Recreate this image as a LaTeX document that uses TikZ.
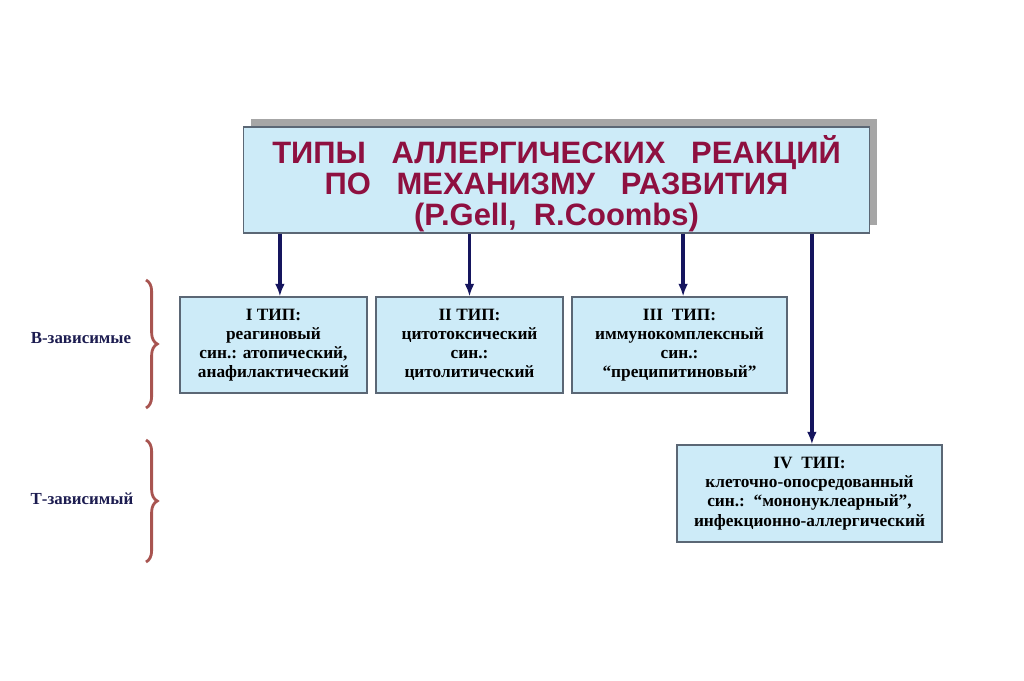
\documentclass[tikz,border=0pt]{standalone}
\usepackage{fontspec}
\setmainfont{Liberation Serif}
\newfontfamily\titlefont{Liberation Sans}
\usetikzlibrary{decorations.pathreplacing, arrows.meta}

\definecolor{titlered}{HTML}{8E1040}
\definecolor{boxblue}{HTML}{CDEBF8}
\definecolor{boxline}{HTML}{5B6775}
\definecolor{arrownavy}{HTML}{15155E}
\definecolor{labelnavy}{HTML}{1C1C50}
\definecolor{bracered}{HTML}{A85450}

\begin{document}
\begin{tikzpicture}[x=0.025cm, y=-0.025cm]
    \tikzset{
        typebox/.style = {rectangle, draw=boxline, fill=boxblue, line width=0.8pt,
                          align=center, minimum height=2.4cm, inner sep=2pt,
                          font=\bfseries\fontsize{12.3}{13.6}\selectfont},
        link/.style    = {-{Latex[length=9pt, width=7pt]}, arrownavy, line width=2.3pt},
        group/.style   = {font=\bfseries\fontsize{12}{14}\selectfont, text=labelnavy},
        bracket/.style = {decorate, decoration={brace, amplitude=8pt},
                          bracered, line width=2pt}
    }
    \useasboundingbox[fill=white] (0,0) rectangle (1024,681);

    % title with shadow
    \fill[gray!70] (251,119) rectangle (877,225);
    \node (title) [rectangle, draw=boxline, fill=boxblue, line width=0.8pt,
                   minimum width=15.625cm, minimum height=2.65cm, inner ysep=0pt, align=center,
                   text=titlered, font=\titlefont\bfseries\fontsize{22}{22.3}\selectfont]
          at (556.5,180)
          {\rule{0pt}{25pt}ТИПЫ\ \ \ АЛЛЕРГИЧЕСКИХ\ \ \ РЕАКЦИЙ\\ПО\ \ \ МЕХАНИЗМУ\ \ \ РАЗВИТИЯ\\(P.Gell,\ \ R.Coombs)};

    % types
    \node (type1) [typebox, minimum width=4.675cm] at (273.5,345)
          {I ТИП:\\реагиновый\\син.: атопический,\\анафилактический};
    \node (type2) [typebox, minimum width=4.675cm] at (469.5,345)
          {II ТИП:\\цитотоксический\\син.:\\цитолитический};
    \node (type3) [typebox, minimum width=5.375cm] at (679.5,345)
          {III\ \ ТИП:\\иммунокомплексный\\син.:\\“преципитиновый”};
    \node (type4) [typebox, minimum width=6.625cm, minimum height=2.425cm] at (809.5,493.5)
          {IV\ \ ТИП:\\клеточно-опосредованный\\син.:\ \ “мононуклеарный”,\\инфекционно-аллергический};

    \draw [link] ([xshift=0.16cm]type1.north |- title.south) -- ([xshift=0.16cm]type1.north);
    \draw [link] (type2.north |- title.south) -- (type2.north);
    \draw [link] ([xshift=0.09cm]type3.north |- title.south) -- ([xshift=0.09cm]type3.north);
    \draw [link] ([xshift=0.06cm]type4.north |- title.south) -- ([xshift=0.06cm]type4.north);

    % groups
    \node (bgroup) [group] at (81,338) {В-зависимые};
    \node (tgroup) [group] at (82,499) {Т-зависимый};
    \draw [bracket] (146,280) -- (146,408);
    \draw [bracket] (146,440) -- (146,562);
\end{tikzpicture}
\end{document}
